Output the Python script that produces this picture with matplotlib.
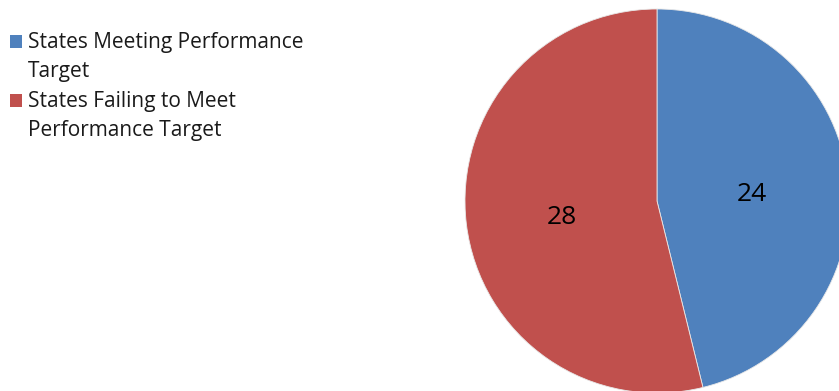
import matplotlib.pyplot as plt
from matplotlib.patches import Rectangle

plt.rcParams['font.family'] = ['Open Sans', 'DejaVu Sans']

labels = ['States Meeting Performance\nTarget', 'States Failing to Meet\nPerformance Target']
counts = [24, 28]
colors = ['#4F81BD', '#C0504D']

W, H = 839, 391
fig = plt.figure(figsize=(W / 100, H / 100), dpi=100)
ax = fig.add_axes([0, 0, 1, 1])

total = sum(counts)
wedges, texts, autotexts = ax.pie(
    counts, colors=colors, startangle=90, counterclock=False,
    center=(657, H - 201), radius=192, frame=True,
    autopct=lambda p: f'{round(p * total / 100)}', pctdistance=0.5,
    wedgeprops=dict(edgecolor='#e8e8e8', linewidth=0.6),
    textprops=dict(fontsize=19, color='black'))
for t in autotexts:
    x, y = t.get_position()
    t.set_position((x, y - 5))
ax.set_xlim(0, W)
ax.set_ylim(0, H)
ax.set_aspect('equal')
ax.axis('off')

# legend drawn by hand: square key on the first line, wrapped text below
line_step = 29
baseline = 48
for label, color in zip(labels, colors):
    ax.add_patch(Rectangle((10, H - baseline), 12, 13, facecolor=color, edgecolor='none'))
    for line in label.split('\n'):
        ax.text(28, H - baseline, line, fontsize=15, va='baseline', ha='left', color='#1a1a1a')
        baseline += line_step
    baseline += 1

fig.savefig('out.png', dpi=100)
